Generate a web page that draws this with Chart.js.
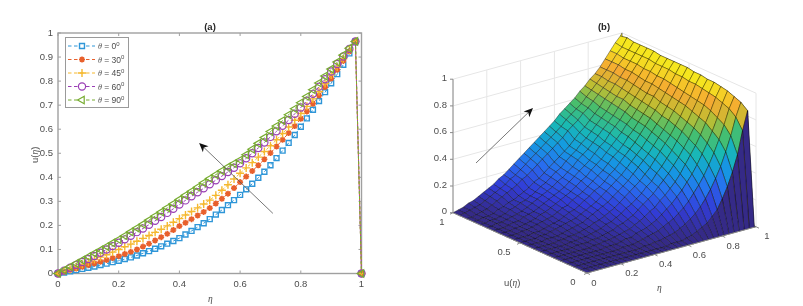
<!DOCTYPE html>
<html>
<head>
<meta charset="utf-8">
<title>u(eta) profiles and surface</title>
<script src="https://cdn.jsdelivr.net/npm/chart.js@4/dist/chart.umd.min.js"></script>
<style>
  html, body { margin: 0; padding: 0; background: #fff; overflow: hidden; }
  canvas { position: absolute; top: 0; }
  #chart_a { left: 0; }
  #chart_b { left: 400px; }
</style>
</head>
<body>
<canvas id="chart_a" width="400" height="306"></canvas>
<canvas id="chart_b" width="403" height="306"></canvas>
<script>
// panel (a)
var etaValues = [0,.02,.04,.06,.08,.10,.12,.14,.16,.18,.20,.22,.24,.26,.28,.30,.32,.34,.36,.38,.40,.42,.44,.46,.48,.50,.52,.54,.56,.58,.60,.62,.64,.66,.68,.70,.72,.74,.76,.78,.80,.82,.84,.86,.88,.90,.92,.94,.96,.98,1];
var theta0 = [0,.004,.009,.014,.019,.024,.029,.035,.041,.047,.053,.060,.067,.075,.084,.093,.103,.113,.124,.135,.147,.162,.177,.193,.209,.226,.245,.264,.284,.305,.327,.350,.373,.398,.423,.450,.480,.511,.543,.576,.610,.645,.681,.717,.754,.791,.829,.868,.915,.965,0];
var theta30 = [0,.007,.014,.021,.028,.035,.042,.049,.056,.064,.072,.081,.090,.100,.112,.124,.137,.151,.165,.181,.197,.211,.226,.241,.256,.272,.291,.311,.332,.355,.380,.403,.426,.450,.475,.501,.528,.556,.584,.613,.643,.674,.706,.740,.775,.811,.847,.884,.923,.965,0];
var theta45 = [0,.009,.018,.028,.038,.048,.058,.068,.078,.089,.100,.111,.122,.134,.146,.158,.171,.184,.198,.213,.228,.243,.258,.273,.289,.305,.325,.346,.369,.393,.417,.439,.461,.484,.507,.531,.556,.582,.609,.637,.665,.695,.726,.757,.790,.825,.859,.893,.929,.965,0];
var theta60 = [0,.012,.024,.036,.048,.060,.073,.086,.100,.114,.128,.142,.157,.172,.187,.203,.219,.235,.252,.269,.287,.304,.321,.338,.354,.371,.388,.405,.422,.440,.458,.479,.500,.522,.545,.568,.591,.614,.638,.664,.690,.718,.747,.777,.808,.840,.871,.902,.934,.965,0];
var theta90 = [0,.014,.028,.042,.056,.070,.084,.098,.112,.127,.141,.157,.173,.189,.205,.222,.239,.256,.273,.290,.308,.325,.342,.359,.377,.395,.411,.427,.443,.457,.472,.494,.517,.541,.565,.590,.613,.636,.660,.685,.710,.736,.764,.792,.821,.850,.879,.908,.937,.965,0];
var seriesLabels = ["0", "30", "45", "60", "90"];
var seriesColors = ["#2f96d8", "#e8602c", "#f5b82e", "#9a3fb5", "#77ac30"];

// panel (b), surface heights (rough, smoothed hand estimates)
var surfaceEta = [0,.03,.06,.09,.12,.15,.18,.21,.24,.27,.30,.33,.36,.39,.42,.45,.48,.51,.54,.57,.60,.63,.66,.69,.72,.75,.78,.81,.84,.87,.90,.93,.96,.99,1];
var surfaceU = [0,.05,.10,.15,.20,.25,.30,.35,.40,.45,.50,.55,.60,.65,.70,.75,.80,.85,.90,.95,1];
var surfaceZ = [
[0,0,0,0,0,0,0,0,0,0,0,0,0,0,0,0,0,0,0,0,0,0,0,0,0,0,0,0,0,0,0,0,0,0,0],
[0,0,0,0,0,0,0,0,0,0,0,0,0,0,0,0,0,0,.01,.01,.01,.02,.03,.05,.07,.09,.13,.17,.24,.32,.42,.54,.71,.85,0],
[0,0,0,0,0,0,0,0,0,0,0,0,0,0,.01,.01,.02,.02,.03,.04,.05,.07,.09,.12,.15,.19,.24,.30,.37,.45,.55,.66,.79,.89,0],
[0,0,0,0,0,0,0,0,0,0,0,.01,.01,.01,.02,.03,.04,.05,.06,.08,.10,.12,.15,.18,.22,.27,.32,.38,.45,.53,.62,.72,.83,.91,0],
[0,0,0,0,0,0,0,0,0,.01,.01,.01,.02,.03,.03,.05,.06,.07,.09,.11,.14,.17,.20,.24,.28,.33,.38,.44,.51,.58,.66,.75,.85,.93,0],
[0,0,0,0,0,0,0,0,.01,.01,.02,.02,.03,.04,.05,.06,.08,.10,.12,.15,.17,.21,.24,.28,.32,.37,.43,.49,.55,.62,.70,.78,.87,.94,0],
[0,0,0,0,0,0,.01,.01,.01,.02,.02,.03,.04,.05,.07,.08,.10,.12,.15,.18,.21,.24,.28,.32,.36,.41,.46,.52,.58,.65,.72,.80,.88,.95,0],
[0,0,0,0,0,0,.01,.01,.02,.02,.03,.04,.05,.07,.08,.10,.12,.15,.17,.20,.23,.27,.30,.35,.39,.44,.49,.55,.61,.67,.74,.81,.89,.95,0],
[0,0,0,0,0,.01,.01,.02,.02,.03,.04,.05,.07,.08,.10,.12,.14,.17,.20,.23,.26,.29,.33,.37,.42,.47,.52,.57,.63,.69,.76,.82,.90,.96,0],
[0,0,0,0,.01,.01,.01,.02,.03,.04,.05,.06,.08,.10,.12,.14,.16,.19,.22,.25,.28,.32,.36,.40,.44,.49,.54,.59,.65,.71,.77,.83,.90,.96,0],
[0,0,0,0,.01,.01,.02,.03,.04,.05,.06,.07,.09,.11,.13,.15,.18,.21,.24,.27,.30,.34,.38,.42,.46,.51,.56,.61,.66,.72,.78,.84,.91,.97,0],
[0,0,0,0,.01,.01,.02,.03,.04,.05,.07,.09,.10,.12,.15,.17,.20,.22,.25,.29,.32,.36,.40,.44,.48,.53,.58,.63,.68,.73,.79,.85,.91,.97,0],
[0,0,0,.01,.01,.02,.03,.04,.05,.06,.08,.10,.11,.14,.16,.18,.21,.24,.27,.30,.34,.38,.41,.45,.50,.54,.59,.64,.69,.75,.80,.86,.92,.97,0],
[0,0,0,.01,.01,.02,.03,.04,.06,.07,.09,.11,.13,.15,.17,.20,.23,.25,.29,.32,.35,.39,.43,.47,.51,.56,.60,.65,.70,.75,.81,.86,.92,.97,0],
[0,0,0,.01,.02,.02,.04,.05,.06,.08,.10,.12,.14,.16,.18,.21,.24,.27,.30,.33,.37,.41,.44,.49,.53,.57,.62,.66,.71,.76,.81,.87,.92,.97,0],
[0,0,.01,.01,.02,.03,.04,.05,.07,.09,.11,.13,.15,.17,.20,.22,.25,.28,.32,.35,.38,.42,.46,.50,.54,.58,.63,.68,.72,.77,.82,.87,.93,.98,0],
[0,0,.01,.01,.02,.03,.05,.06,.08,.09,.11,.13,.16,.18,.21,.24,.26,.30,.33,.36,.40,.43,.47,.51,.55,.59,.64,.68,.73,.78,.83,.88,.93,.98,0],
[0,0,.01,.01,.02,.04,.05,.07,.08,.10,.12,.14,.17,.19,.22,.25,.28,.31,.34,.37,.41,.45,.48,.52,.56,.60,.65,.69,.74,.78,.83,.88,.93,.98,0],
[0,0,.01,.02,.03,.05,.07,.09,.11,.13,.15,.18,.20,.23,.26,.29,.32,.35,.38,.41,.45,.48,.51,.55,.58,.62,.66,.70,.74,.79,.84,.88,.93,.98,0],
[0,.01,.02,.03,.04,.06,.08,.10,.12,.14,.17,.19,.22,.25,.28,.31,.34,.37,.40,.43,.46,.50,.53,.56,.59,.63,.67,.71,.75,.79,.84,.89,.93,.99,0],
[0,.01,.02,.04,.05,.07,.09,.11,.13,.16,.18,.21,.24,.27,.30,.33,.36,.39,.42,.45,.48,.52,.55,.58,.61,.65,.68,.72,.75,.79,.84,.89,.94,.98,1]
];
var zTicks = [0, .2, .4, .6, .8, 1];
var etaTicks = [0, .2, .4, .6, .8, 1];
var uTicks = [0, .5, 1];

var parula = [[53,42,135],[50,60,215],[40,110,240],[20,155,225],[25,185,180],[70,190,110],[190,190,50],[245,170,50],[245,230,30]];
var colorGain = 1.12;

var tickFont = '9.5px "Liberation Sans"';
var textColor = "#4d4d4d";

function parulaColor(z) {
    var p = Math.min(Math.max(z * colorGain, 0), 1) * (parula.length - 1);
    var i = Math.min(Math.floor(p), parula.length - 2);
    var f = p - i, a = parula[i], b = parula[i + 1];
    return "rgb(" + Math.round(a[0] + (b[0] - a[0]) * f) + "," + Math.round(a[1] + (b[1] - a[1]) * f) + "," + Math.round(a[2] + (b[2] - a[2]) * f) + ")";
}

// text made of runs, so the eta and theta can be italic serif
function drawRuns(ctx, runs, x, y) {
    ctx.textAlign = "left";
    ctx.textBaseline = "middle";
    runs.forEach(function(r) {
        ctx.font = r.font;
        ctx.fillText(r.text, x, y + (r.dy || 0));
        x += ctx.measureText(r.text).width;
    });
}

var greek = 'italic 9.5px "Liberation Serif"';

function drawArrow(ctx, x0, y0, x1, y1) {
    var a = Math.atan2(y1 - y0, x1 - x0);
    ctx.strokeStyle = "#555";
    ctx.lineWidth = 0.8;
    ctx.beginPath();
    ctx.moveTo(x0, y0);
    ctx.lineTo(x1 - 6 * Math.cos(a), y1 - 6 * Math.sin(a));
    ctx.stroke();
    ctx.fillStyle = "#111";
    ctx.beginPath();
    ctx.moveTo(x1, y1);
    ctx.lineTo(x1 - 10 * Math.cos(a - .42), y1 - 10 * Math.sin(a - .42));
    ctx.lineTo(x1 - 6.5 * Math.cos(a), y1 - 6.5 * Math.sin(a));
    ctx.lineTo(x1 - 10 * Math.cos(a + .42), y1 - 10 * Math.sin(a + .42));
    ctx.closePath();
    ctx.fill();
}

var markerStyles = [
    { pointStyle: "rect", radius: 3.5, rotation: 0 },
    { pointStyle: "star", radius: 3, rotation: 0 },
    { pointStyle: "cross", radius: 4, rotation: 0 },
    { pointStyle: "circle", radius: 3.6, rotation: 0 },
    { pointStyle: "triangle", radius: 4.4, rotation: -90 }
];
var markerWidths = [1.4, 1.6, 1.4, 1.2, 1.2];

var boxPlugin = {
    id: "boxPlugin",
    beforeDatasetsDraw: function(chart) {
        var ctx = chart.ctx, area = chart.chartArea, x = chart.scales.x, y = chart.scales.y;
        ctx.save();
        ctx.strokeStyle = "#a0a0a0";
        ctx.lineWidth = 1.4;
        ctx.strokeRect(area.left, area.top, area.right - area.left, area.bottom - area.top);
        ctx.lineWidth = 1;
        x.ticks.forEach(function(t) {
            var p = x.getPixelForValue(t.value);
            ctx.beginPath();
            ctx.moveTo(p, area.top); ctx.lineTo(p, area.top + 3);
            ctx.moveTo(p, area.bottom); ctx.lineTo(p, area.bottom - 3);
            ctx.stroke();
        });
        y.ticks.forEach(function(t) {
            var p = y.getPixelForValue(t.value);
            ctx.beginPath();
            ctx.moveTo(area.left, p); ctx.lineTo(area.left + 3, p);
            ctx.moveTo(area.right, p); ctx.lineTo(area.right - 3, p);
            ctx.stroke();
        });
        ctx.restore();
    },
    afterDatasetsDraw: function(chart) {
        var ctx = chart.ctx, x = chart.scales.x, y = chart.scales.y;
        ctx.save();
        drawArrow(ctx, x.getPixelForValue(.708), y.getPixelForValue(.25), x.getPixelForValue(.465), y.getPixelForValue(.543));

        // legend
        ctx.fillStyle = "#fff";
        ctx.fillRect(65.5, 37.5, 63, 70);
        ctx.strokeStyle = "#9a9a9a";
        ctx.lineWidth = 1;
        ctx.strokeRect(65.5, 37.5, 63, 70);
        var rowY = [46, 59.5, 73, 86.5, 100];
        seriesLabels.forEach(function(label, i) {
            ctx.strokeStyle = seriesColors[i];
            ctx.fillStyle = "#fff";
            ctx.lineWidth = 1;
            ctx.setLineDash([3.5, 2.5]);
            ctx.beginPath();
            ctx.moveTo(68, rowY[i]); ctx.lineTo(95, rowY[i]);
            ctx.stroke();
            ctx.setLineDash([]);
            var m = markerStyles[i];
            ctx.lineWidth = markerWidths[i];
            Chart.helpers.drawPoint(ctx, { pointStyle: m.pointStyle, radius: m.radius, rotation: m.rotation, borderWidth: ctx.lineWidth }, 82, rowY[i]);
            ctx.fillStyle = textColor;
            drawRuns(ctx, [
                { text: "θ", font: 'italic 8px "Liberation Serif"' },
                { text: " = " + label, font: '8.5px "Liberation Sans"' },
                { text: "0", font: '6px "Liberation Sans"', dy: -3 }
            ], 98, rowY[i] + 1);
        });

        ctx.fillStyle = "#262626";
        ctx.font = 'bold 9.5px "Liberation Sans"';
        ctx.textAlign = "center";
        ctx.textBaseline = "middle";
        ctx.fillText("(a)", 210, 27);
        ctx.fillStyle = textColor;
        drawRuns(ctx, [{ text: "η", font: greek }], 208, 299);
        ctx.translate(35, 154);
        ctx.rotate(-Math.PI / 2);
        drawRuns(ctx, [{ text: "u(", font: tickFont }, { text: "η", font: greek }, { text: ")", font: tickFont }], -9, 0);
        ctx.restore();
    }
};

var profileDatasets = [theta0, theta30, theta45, theta60, theta90].map(function(values, i) {
    var m = markerStyles[i];
    return {
        label: "θ = " + seriesLabels[i],
        data: values.map(function(v, k) { return { x: etaValues[k], y: v }; }),
        borderColor: seriesColors[i],
        borderWidth: 1,
        borderDash: [3, 2],
        pointStyle: m.pointStyle,
        pointRadius: m.radius,
        pointRotation: m.rotation,
        pointBorderColor: seriesColors[i],
        pointBackgroundColor: "transparent",
        pointBorderWidth: markerWidths[i],
        fill: false,
        tension: 0,
        clip: false,
        order: 4 - i
    };
});

new Chart(document.getElementById("chart_a").getContext("2d"), {
    type: "line",
    data: { datasets: profileDatasets },
    options: {
        responsive: false,
        animation: false,
        layout: { padding: { top: 33, right: 38.5, bottom: 0, left: 0 } },
        plugins: { legend: { display: false }, tooltip: { enabled: false } },
        scales: {
            x: {
                type: "linear", min: 0, max: 1,
                afterFit: function(s) { s.height = 32.5; },
                grid: { display: false, drawTicks: false },
                border: { display: false },
                ticks: { stepSize: .2, maxRotation: 0, padding: 5, color: textColor, font: { family: "Liberation Sans", size: 9.5 },
                    callback: function(v) { return String(+v.toFixed(1)); } }
            },
            y: {
                min: 0, max: 1,
                afterFit: function(s) { s.width = 58; },
                grid: { display: false, drawTicks: false },
                border: { display: false },
                ticks: { stepSize: .1, padding: 5, color: textColor, font: { family: "Liberation Sans", size: 9.5 },
                    callback: function(v) { return String(+v.toFixed(1)); } }
            }
        }
    },
    plugins: [boxPlugin]
});

// panel (b): orthographic view of the (eta, u, z) box, units of the hidden scales
var view = { etaX: 169, etaY: 46.3, uX: -134, uY: 60.3, zY: 133.5 };

function project(eta, u, z) {
    return { x: view.etaX * eta + view.uX * u, y: view.etaY * eta + view.uY * u + view.zY * z };
}

function lineSet(points, color, width) {
    return {
        data: points.map(function(p) { return project(p[0], p[1], p[2]); }),
        borderColor: color, borderWidth: width, pointRadius: 0, fill: false, tension: 0, clip: false
    };
}

var surfaceDatasets = [];

// nearest first: chart.js paints the first dataset last
surfaceDatasets.push(lineSet([[0, 1, 0], [0, 1, 1]], "#8a8a8a", 1));
surfaceDatasets.push(lineSet([[0, 1, 0], [0, 0, 0], [1, 0, 0]], "#8a8a8a", 1));

for (var j = 0; j < surfaceU.length - 1; j++) {
    for (var i = 0; i < surfaceEta.length - 1; i++) {
        surfaceDatasets.push({
            data: [
                project(surfaceEta[i], surfaceU[j], surfaceZ[j][i]),
                project(surfaceEta[i + 1], surfaceU[j], surfaceZ[j][i + 1]),
                project(surfaceEta[i + 1], surfaceU[j + 1], surfaceZ[j + 1][i + 1]),
                project(surfaceEta[i], surfaceU[j + 1], surfaceZ[j + 1][i]),
                project(surfaceEta[i], surfaceU[j], surfaceZ[j][i])
            ],
            backgroundColor: parulaColor(surfaceZ[j][i]),
            borderColor: "rgba(0,0,0,0.6)",
            borderWidth: 0.6,
            pointRadius: 0,
            fill: "shape",
            tension: 0,
            clip: false
        });
    }
}

zTicks.forEach(function(z) {
    surfaceDatasets.push(lineSet([[0, 1, z], [1, 1, z], [1, 0, z]], "#e6e6e6", 1));
});
etaTicks.forEach(function(e) {
    surfaceDatasets.push(lineSet([[e, 0, 0], [e, 1, 0], [e, 1, 1]], "#e6e6e6", 1));
});
uTicks.forEach(function(u) {
    surfaceDatasets.push(lineSet([[0, u, 0], [1, u, 0], [1, u, 1]], "#e6e6e6", 1));
});

var surfaceLabels = {
    id: "surfaceLabels",
    afterDatasetsDraw: function(chart) {
        var ctx = chart.ctx, sx = chart.scales.x, sy = chart.scales.y;
        function px(p) { return { x: sx.getPixelForValue(p.x), y: sy.getPixelForValue(p.y) }; }
        ctx.save();
        ctx.fillStyle = textColor;
        ctx.strokeStyle = "#8a8a8a";
        ctx.lineWidth = 1;
        ctx.font = tickFont;
        ctx.textBaseline = "middle";
        ctx.textAlign = "right";
        zTicks.forEach(function(z) {
            var p = px(project(0, 1, z));
            ctx.beginPath(); ctx.moveTo(p.x, p.y); ctx.lineTo(p.x - 3, p.y); ctx.stroke();
            ctx.fillText(String(z), p.x - 6, p.y - 1);
        });
        ctx.textAlign = "center";
        etaTicks.forEach(function(e) {
            var p = px(project(e, 0, 0));
            ctx.beginPath(); ctx.moveTo(p.x, p.y); ctx.lineTo(p.x + 3, p.y + 1.5); ctx.stroke();
            ctx.fillText(String(e), p.x + (e === 0 ? 7 : 11), p.y + 10);
        });
        uTicks.forEach(function(u) {
            var p = px(project(0, u, 0));
            ctx.beginPath(); ctx.moveTo(p.x, p.y); ctx.lineTo(p.x - 3, p.y + 1.5); ctx.stroke();
            ctx.fillText(String(u), p.x - (u === 0 ? 14 : u === 1 ? 11 : 16), p.y + 9.5);
        });
        ctx.font = 'bold 9.5px "Liberation Sans"';
        ctx.fillStyle = "#262626";
        ctx.fillText("(b)", 204, 27);
        ctx.fillStyle = textColor;
        drawRuns(ctx, [{ text: "u(", font: tickFont }, { text: "η", font: greek }, { text: ")", font: tickFont }], 104, 283);
        drawRuns(ctx, [{ text: "η", font: greek }], 257, 288);
        drawArrow(ctx, 76, 163, 133, 108);
        ctx.restore();
    }
};

new Chart(document.getElementById("chart_b").getContext("2d"), {
    type: "line",
    data: { datasets: surfaceDatasets },
    options: {
        responsive: false,
        animation: false,
        events: [],
        layout: { padding: 0 },
        plugins: { legend: { display: false }, tooltip: { enabled: false } },
        scales: {
            x: { type: "linear", display: false, min: -187, max: 216 },
            y: { type: "linear", display: false, min: -33, max: 273 }
        }
    },
    plugins: [surfaceLabels]
});
</script>
</body>
</html>
